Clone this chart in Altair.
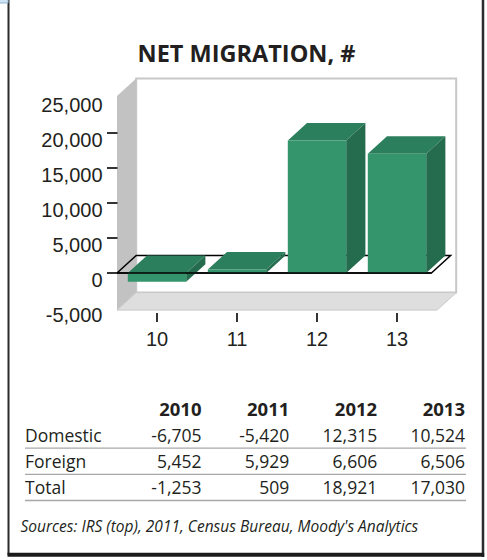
import altair as alt
import pandas as pd

# ---------------- data ----------------
years = ["2010", "2011", "2012", "2013"]
x_labels = ["10", "11", "12", "13"]
domestic = [-6705, -5420, 12315, 10524]
foreign = [5452, 5929, 6606, 6506]
total = [-1253, 509, 18921, 17030]
y_tick_values = [-5000, 0, 5000, 10000, 15000, 20000, 25000]
y_tick_marks = [0, 5000, 10000, 15000, 20000]
row_names = ["Domestic", "Foreign", "Total"]
title_text = "NET MIGRATION, #"
source_text = "Sources: IRS (top), 2011, Census Bureau, Moody's Analytics"

# ---------------- style / geometry constants ----------------
W, H = 487, 560
DX, DY = 0.24, 2500          # 3-D depth offset (x units, value units)
HW = 0.365                   # half bar width (x units)
WALL_LO, WALL_HI = -5300, 25300
PLANE_END = 3.93
FRONT, TOP, SIDE = "#34946c", "#2c7f5d", "#256c4e"
TXT = "#231f20"

xs = alt.Scale(domain=[0, 4], range=[117, 437], nice=False, zero=False)
ys = alt.Scale(domain=[-5000, 25000], range=[308, 98], nice=False, zero=False)
tx = alt.Scale(type="point", domain=years, range=[201.5, 465], padding=0)
ty = alt.Scale(type="point", domain=["header"] + row_names, range=[415.5, 494], padding=0)


def X(f):
    return alt.X(f, type="quantitative", scale=xs, axis=None)


def X2(f):
    return alt.X2(f)


def Y(f):
    return alt.Y(f, type="quantitative", scale=ys, axis=None, stack=None)


def Y2(f):
    return alt.Y2(f)


# ---------------- derived tables ----------------
centers = [i + 0.5 for i in range(len(years))]
bars = pd.DataFrame({"year": years, "lab": x_labels, "c": centers, "v": total})
bars["x0"] = bars["c"] - HW
bars["x1"] = bars["c"] + HW
bars["lo"] = bars["v"].clip(upper=0)
bars["hi"] = bars["v"].clip(lower=0)

top_rows, side_rows = [], []
for _, r in bars.iterrows():
    top_rows.append({"bar": r.year, "y": r.hi, "x": r.x0, "x2": r.x1})
    top_rows.append({"bar": r.year, "y": r.hi + DY, "x": r.x0 + DX, "x2": r.x1 + DX})
    side_rows.append({"bar": r.year, "x": r.x1, "y": r.lo, "y2": r.hi})
    side_rows.append({"bar": r.year, "x": r.x1 + DX, "y": r.lo + DY, "y2": r.hi + DY})
tops = pd.DataFrame(top_rows)
sides = pd.DataFrame(side_rows)

back_wall = pd.DataFrame([{"x": DX, "x2": 4 + DX, "y": WALL_LO + DY, "y2": WALL_HI + DY}])
left_wall = pd.DataFrame([{"x": 0, "y": WALL_LO, "y2": WALL_HI},
                          {"x": DX, "y": WALL_LO + DY, "y2": WALL_HI + DY}])
floor = pd.DataFrame([{"y": WALL_LO, "x": 0, "x2": 4},
                      {"y": WALL_LO + DY, "x": DX, "x2": 4 + DX}])
plane = pd.DataFrame([{"o": 0, "x": 0, "y": 0},
                      {"o": 1, "x": PLANE_END, "y": 0},
                      {"o": 2, "x": PLANE_END + DX, "y": DY},
                      {"o": 3, "x": DX, "y": DY},
                      {"o": 4, "x": 0, "y": 0}])
plane_front = pd.DataFrame([{"x": 0, "x2": PLANE_END, "y": 0}])

ylab = pd.DataFrame({"v": y_tick_values, "label": [f"{v:,}" for v in y_tick_values]})
ytk = pd.DataFrame({"v": y_tick_marks})

header = pd.DataFrame({"year": years, "row": ["header"] * len(years)})
cells = []
for name, series in zip(row_names, [domestic, foreign, total]):
    for yr, v in zip(years, series):
        cells.append({"row": name, "year": yr, "label": f"{v:,}"})
cells = pd.DataFrame(cells)
rows_df = pd.DataFrame({"row": row_names})

# ---------------- layers ----------------
layers = []

# frame
layers.append(alt.Chart(pd.DataFrame({"a": [0]})).mark_rule(color="#2b2b2b", strokeWidth=2).encode(
    x=alt.value(8.5), y=alt.value(0), y2=alt.value(555)))
layers.append(alt.Chart(pd.DataFrame({"a": [0]})).mark_rule(color="#2b2b2b", strokeWidth=2.5).encode(
    x=alt.value(483), y=alt.value(0), y2=alt.value(557)))
layers.append(alt.Chart(pd.DataFrame({"a": [0]})).mark_rule(color="#1a1a1a", strokeWidth=4).encode(
    x=alt.value(7.5), x2=alt.value(484.2), y=alt.value(554.8)))
layers.append(alt.Chart(pd.DataFrame({"a": [0]})).mark_rect(fill="#cfe3f2", stroke="#8fb5d2", strokeWidth=1).encode(
    x=alt.value(-1), x2=alt.value(8), y=alt.value(-1), y2=alt.value(3)))

# walls and floor
layers.append(alt.Chart(back_wall).mark_rect(fill="white", stroke="#c8c8c8", strokeWidth=2).encode(
    x=X("x"), x2=X2("x2"), y=Y("y"), y2=Y2("y2")))
layers.append(alt.Chart(left_wall).mark_area(orient="vertical", color="#c2c2c2").encode(
    x=X("x"), y=Y("y"), y2=Y2("y2")))
layers.append(alt.Chart(floor).mark_area(orient="horizontal", fill="#dedede", stroke="#c8c8c8", strokeWidth=1).encode(
    y=Y("y"), x=X("x"), x2=X2("x2")))

# zero plane outline
layers.append(alt.Chart(plane).mark_line(color="black", strokeWidth=1.5).encode(
    x=X("x"), y=Y("y"), order=alt.Order("o:Q")))

# bars
layers.append(alt.Chart(tops).mark_area(orient="horizontal", color=TOP).encode(
    y=Y("y"), x=X("x"), x2=X2("x2"), detail="bar:N"))
layers.append(alt.Chart(sides).mark_area(orient="vertical", color=SIDE).encode(
    x=X("x"), y=Y("y"), y2=Y2("y2"), detail="bar:N"))
layers.append(alt.Chart(bars).mark_rect(color=FRONT).encode(
    x=X("x0"), x2=X2("x1"), y=Y("lo"), y2=Y2("hi")))

# zero plane front edge over bars
layers.append(alt.Chart(plane_front).mark_rule(color="black", strokeWidth=1.5).encode(
    x=X("x"), x2=X2("x2"), y=Y("y")))

# y axis ticks and labels
layers.append(alt.Chart(ytk).mark_rule(color="black", strokeWidth=1.6).encode(
    x=alt.value(107), x2=alt.value(117.5), y=Y("v")))
layers.append(alt.Chart(ylab).mark_text(align="right", baseline="middle", dy=7.5, font="Liberation Sans",
                                        fontSize=20, color=TXT).encode(
    x=alt.value(102.5), y=Y("v"), text="label:N"))

# x axis ticks and labels
layers.append(alt.Chart(bars).mark_rule(color="black", strokeWidth=1.6).encode(
    x=X("c"), y=alt.value(313), y2=alt.value(322)))
layers.append(alt.Chart(bars).mark_text(align="center", baseline="middle", font="Liberation Sans",
                                        fontSize=20, color=TXT).encode(
    x=X("c"), y=alt.value(340), text="lab:N"))

# title
layers.append(alt.Chart(pd.DataFrame({"t": [title_text]})).mark_text(
    align="center", baseline="alphabetic", font="Open Sans", fontWeight="bold", fontSize=23.5, color=TXT).encode(
    x=alt.value(246.5), y=alt.value(61.5), text="t:N"))

# table
layers.append(alt.Chart(rows_df).mark_rule(color="#a8a8a8", strokeWidth=1.3, yOffset=6.5).encode(
    x=alt.value(25), x2=alt.value(466), y=alt.Y("row:N", scale=ty, axis=None)))
layers.append(alt.Chart(header).mark_text(align="right", baseline="alphabetic", font="Open Sans",
                                          fontWeight="bold", fontSize=18.5, color=TXT).encode(
    x=alt.X("year:N", scale=tx, axis=None), y=alt.Y("row:N", scale=ty, axis=None), text="year:N"))
layers.append(alt.Chart(rows_df).mark_text(align="left", baseline="alphabetic", font="Open Sans",
                                           fontSize=17.5, color=TXT).encode(
    x=alt.value(25), y=alt.Y("row:N", scale=ty, axis=None), text="row:N"))
layers.append(alt.Chart(cells).mark_text(align="right", baseline="alphabetic", font="Open Sans",
                                         fontSize=17.5, color=TXT).encode(
    x=alt.X("year:N", scale=tx, axis=None), y=alt.Y("row:N", scale=ty, axis=None), text="label:N"))

# source
layers.append(alt.Chart(pd.DataFrame({"t": [source_text]})).mark_text(
    align="left", baseline="alphabetic", font="Open Sans", fontStyle="italic", fontSize=15.5, color=TXT).encode(
    x=alt.value(20.5), y=alt.value(531.5), text="t:N"))

chart = alt.layer(*layers).resolve_scale(x="independent", y="independent").properties(
    width=W, height=H, padding=0, autosize=alt.AutoSizeParams(type="none"), background="white"
).configure_view(stroke=None)

chart.save("out.html", embed_options={"renderer": "svg", "actions": False})
